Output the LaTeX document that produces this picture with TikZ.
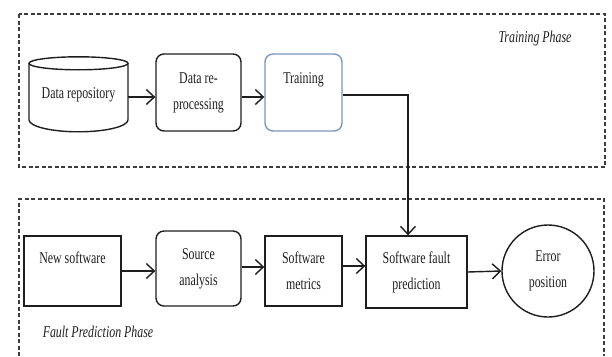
\documentclass[tikz,border=0pt]{standalone}
\usepackage{fontspec}
\setmainfont{Liberation Serif}[FakeStretch=0.72]
\usetikzlibrary{arrows.meta}
\definecolor{ink}{RGB}{30,30,30}
\definecolor{dashgray}{RGB}{60,60,60}
\definecolor{trainblue}{RGB}{125,150,185}
\tikzset{
  stroke/.style={draw=ink, line width=1.4pt},
  boxtext/.style={font=\fontsize{16.5}{26}\selectfont, text=ink, align=center, inner sep=0pt},
  sqbox/.style={stroke, boxtext},
  rbox/.style={stroke, boxtext, rounded corners=8pt},
  flow/.style={draw=ink, line width=1.4pt, -{Straight Barb[length=8pt,width=15pt]}},
  phasebox/.style={draw=dashgray, line width=1.1pt, dash pattern=on 4pt off 2.5pt},
  phaselabel/.style={font=\fontsize{16.5}{20}\selectfont\itshape, text=ink, inner sep=0pt}
}
\begin{document}
\begin{tikzpicture}[x=1pt, y=-1pt]
\useasboundingbox (0,0) rectangle (612,356);

% phase frames
\draw[phasebox] (19,14) rectangle (605,167);
\draw[phasebox] (19,356) -- (19,199) -- (604,199) -- (604,356);
\node[phaselabel, anchor=base] (tlabel) at (535,42) {Training Phase};
\node[phaselabel, anchor=base] (flabel) at (98,337) {Fault Prediction Phase};

% training row
\node[boxtext, minimum width=99pt, minimum height=75pt] (repo) at (78.5,94.5) {Data repository};
\coordinate (ct) at ([yshift=-6.5pt]repo.north);
\draw[stroke] (ct) ellipse[x radius=49.5pt, y radius=6.5pt];
\draw[stroke] ([xshift=-49.5pt]ct) -- ([xshift=-49.5pt,yshift=-56.5pt]ct)
  arc[start angle=180, end angle=360, x radius=49.5pt, y radius=12pt]
  -- ([xshift=49.5pt]ct);
\node[rbox, minimum width=85pt, minimum height=77pt] (reproc) at (198.5,92.5) {Data re-\\processing};
\node[rbox, draw=trainblue, minimum width=77pt, minimum height=77pt, text height=12pt, text depth=31pt] (train) at (303.5,92.5) {Training};

% prediction row
\node[sqbox, minimum width=97pt, minimum height=70pt, text height=12pt, text depth=28pt] (new) at (72.5,271) {New software};
\node[rbox, minimum width=85pt, minimum height=75pt] (src) at (198.5,268.5) {Source\\analysis};
\node[sqbox, minimum width=77pt, minimum height=70pt] (met) at (303.5,271) {Software\\metrics};
\node[sqbox, minimum width=101pt, minimum height=72pt] (fault) at (416.5,272) {Software fault\\prediction};
\node[stroke, boxtext, circle, minimum size=92pt] (err) at (548,271) {Error\\position};

% connectors
\draw[flow] ([yshift=-2.5pt]repo.east) -- ([yshift=-2.5pt]repo.east -| reproc.west);
\draw[flow] ([yshift=-4.5pt]reproc.east) -- ([yshift=-4.5pt]reproc.east -| train.west);
\coordinate (turn) at (408,95);
\draw[flow] (train.east |- turn) -- (turn) -- (turn |- fault.north);
\draw[flow] (new.east) -- (new.east -| src.west);
\draw[flow] ([yshift=1.5pt]src.east) -- ([yshift=1.5pt]src.east -| met.west);
\draw[flow] ([yshift=5pt]met.east) -- ([yshift=5pt]met.east -| fault.west);
\draw[flow] (fault.east) -- (err.west);
\end{tikzpicture}
\end{document}
